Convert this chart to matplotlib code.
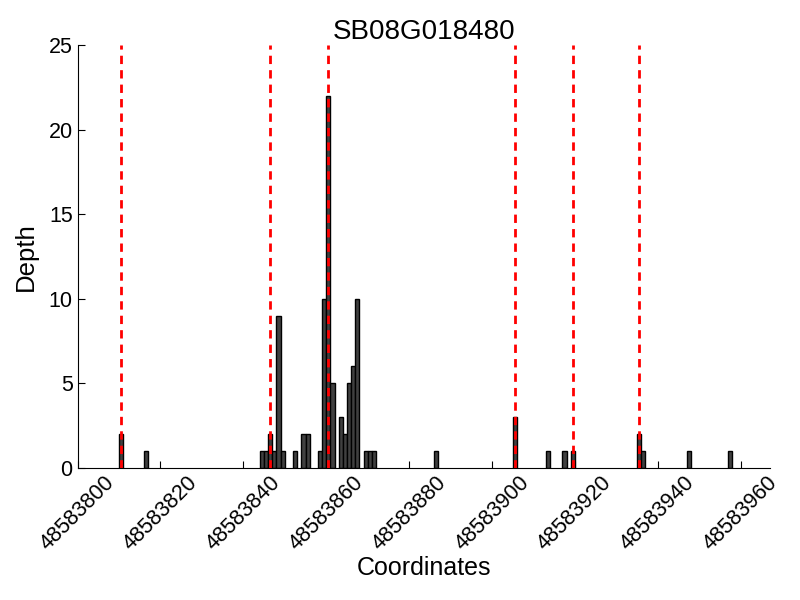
import matplotlib
matplotlib.use("Agg")
import matplotlib.pyplot as plt

plt.rcParams['font.family'] = ['Liberation Sans', 'DejaVu Sans']

title = "SB08G018480"
base = 48583800
offsets = [10, 16, 44, 45, 46, 47, 48, 49, 52, 54, 55, 58, 59, 60, 61, 63, 64, 65, 66, 67,
           69, 70, 71, 86, 105, 113, 117, 119, 135, 136, 147, 157]
depths = [2, 1, 1, 1, 2, 1, 9, 1, 1, 2, 2, 1, 10, 22, 5, 3, 2, 5, 6, 10,
          1, 1, 1, 1, 3, 1, 1, 1, 2, 1, 1, 1]
boundary_offsets = [10, 46, 60, 105, 119, 135]
xticks = [48583800, 48583820, 48583840, 48583860, 48583880, 48583900, 48583920, 48583940, 48583960]
yticks = [0, 5, 10, 15, 20, 25]

positions = [base + o for o in offsets]
boundaries = [base + o + 0.5 for o in boundary_offsets]

fig = plt.figure(figsize=(8, 6), dpi=100)
ax = fig.add_axes([0.097, 0.2205, 0.865, 0.7045])

ax.bar(positions, depths, width=1, align='edge', color='#404040', edgecolor='black', linewidth=1, zorder=2)
for b in boundaries:
    ax.axvline(b, color='red', linestyle=(0, (3, 2.2)), linewidth=2, zorder=3)

ax.set_xlim(48583800, 48583967)
ax.set_ylim(0, 25)
ax.set_xticks(xticks)
ax.set_xticklabels([str(t) for t in xticks], rotation=45, fontsize=15.5)
ax.set_yticks(yticks)
ax.set_yticklabels([str(t) for t in yticks], fontsize=15.5)
ax.tick_params(direction='in', length=5, width=0.8, top=False, right=False)
ax.spines['top'].set_visible(False)
ax.spines['right'].set_visible(False)
ax.set_xlabel("Coordinates", fontsize=18, labelpad=1)
ax.set_ylabel("Depth", fontsize=18.5, labelpad=8)
ax.set_title(title, fontsize=20, pad=4)

fig.savefig("out.png", dpi=100)
